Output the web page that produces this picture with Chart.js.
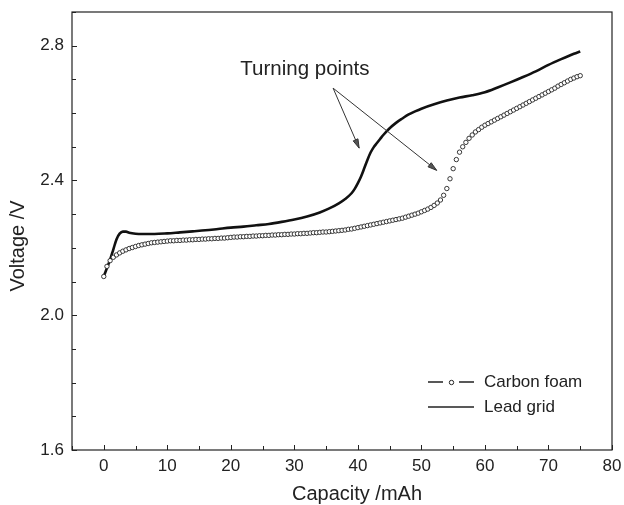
<!DOCTYPE html>
<html>
<head>
<meta charset="utf-8">
<script src="https://cdn.jsdelivr.net/npm/chart.js@4/dist/chart.umd.min.js"></script>
<style>
  html, body { margin: 0; padding: 0; background: #fff; }
  #wrap { width: 624px; height: 505px; }
</style>
</head>
<body>
<div id="wrap"><canvas id="myChart" width="624" height="505"></canvas></div>
<script>
// capacity (mAh) and voltage (V)
const leadCap = [0, 0.5, 1, 1.5, 2, 2.5, 3, 3.5, 4, 5, 6, 8, 10, 12, 14, 16, 18, 20, 22, 24, 26, 28, 30, 32, 34,
  35.5, 37, 38, 39, 39.5, 40, 40.5, 41, 41.5, 42, 42.5, 43, 43.5, 44, 45, 46, 47, 48, 49, 50, 52, 54, 56, 58, 60,
  62, 64, 66, 68, 70, 72, 74, 75];
const leadVolt = [2.115, 2.14, 2.165, 2.195, 2.225, 2.242, 2.248, 2.248, 2.245, 2.242, 2.241, 2.241, 2.243, 2.246,
  2.249, 2.252, 2.256, 2.26, 2.263, 2.267, 2.271, 2.277, 2.284, 2.293, 2.305, 2.317, 2.332, 2.345, 2.362, 2.375,
  2.392, 2.412, 2.436, 2.461, 2.483, 2.499, 2.511, 2.523, 2.535, 2.555, 2.571, 2.584, 2.596, 2.605, 2.613, 2.626,
  2.637, 2.646, 2.653, 2.662, 2.676, 2.691, 2.707, 2.724, 2.743, 2.76, 2.776, 2.783];

const foamCap = [0, 0.5, 1, 1.5, 2, 2.5, 3, 3.5, 4, 4.5, 5, 5.5, 6, 6.5, 7, 7.5, 8, 8.5, 9, 9.5,
  10, 10.5, 11, 11.5, 12, 12.5, 13, 13.5, 14, 14.5, 15, 15.5, 16, 16.5, 17, 17.5, 18, 18.5, 19, 19.5,
  20, 20.5, 21, 21.5, 22, 22.5, 23, 23.5, 24, 24.5, 25, 25.5, 26, 26.5, 27, 27.5, 28, 28.5, 29, 29.5,
  30, 30.5, 31, 31.5, 32, 32.5, 33, 33.5, 34, 34.5, 35, 35.5, 36, 36.5, 37, 37.5, 38, 38.5, 39, 39.5,
  40, 40.5, 41, 41.5, 42, 42.5, 43, 43.5, 44, 44.5, 45, 45.5, 46, 46.5, 47, 47.5, 48, 48.5, 49, 49.5,
  50, 50.5, 51, 51.5, 52, 52.5, 53, 53.5, 54, 54.5, 55, 55.5, 56, 56.5, 57, 57.5, 58, 58.5, 59, 59.5,
  60, 60.5, 61, 61.5, 62, 62.5, 63, 63.5, 64, 64.5, 65, 65.5, 66, 66.5, 67, 67.5, 68, 68.5, 69, 69.5,
  70, 70.5, 71, 71.5, 72, 72.5, 73, 73.5, 74, 74.5, 75];
const foamVolt = [2.115, 2.145, 2.162, 2.172, 2.179, 2.185, 2.19, 2.194, 2.198, 2.201, 2.204, 2.207, 2.209, 2.211, 2.213, 2.215, 2.216, 2.217, 2.218, 2.219,
  2.22, 2.221, 2.221, 2.222, 2.222, 2.223, 2.223, 2.224, 2.224, 2.225, 2.225, 2.226, 2.226, 2.227, 2.227, 2.228, 2.228, 2.229, 2.229, 2.23,
  2.231, 2.232, 2.232, 2.233, 2.233, 2.234, 2.234, 2.235, 2.235, 2.236, 2.236, 2.237, 2.237, 2.238, 2.238, 2.239, 2.239, 2.24, 2.24, 2.241,
  2.241, 2.242, 2.242, 2.243, 2.243, 2.244, 2.245, 2.245, 2.246, 2.247, 2.247, 2.248, 2.249, 2.25, 2.251, 2.252, 2.253, 2.255, 2.256, 2.258,
  2.26, 2.262, 2.264, 2.266, 2.268, 2.27, 2.272, 2.274, 2.276, 2.278, 2.28, 2.282, 2.284, 2.286, 2.288, 2.291, 2.294, 2.297, 2.3, 2.303,
  2.307, 2.311, 2.315, 2.32, 2.326, 2.333, 2.342, 2.356, 2.376, 2.405, 2.435, 2.462, 2.484, 2.5, 2.513, 2.525, 2.535, 2.544, 2.551, 2.558,
  2.564, 2.569, 2.574, 2.579, 2.584, 2.589, 2.594, 2.599, 2.604, 2.609, 2.614, 2.619, 2.624, 2.629, 2.634, 2.639, 2.644, 2.649, 2.654, 2.659,
  2.664, 2.669, 2.674, 2.68, 2.685, 2.69, 2.695, 2.7, 2.704, 2.708, 2.711];

const xTicks = [0, 10, 20, 30, 40, 50, 60, 70, 80];
const xMinorTicks = [-5, 5, 15, 25, 35, 45, 55, 65, 75];
const yTicks = [1.6, 2.0, 2.4, 2.8];
const yMinorTicks = [1.7, 1.8, 1.9, 2.1, 2.2, 2.3, 2.5, 2.6, 2.7, 2.9];

const seriesNames = ["Carbon foam", "Lead grid"];
const noteText = "Turning points";
// annotation anchor points in data units: [capacity, voltage]
const noteAt = [21.5, 2.731];
const arrowFrom = [36.1, 2.674];
const arrowTo = [[40.2, 2.496], [52.4, 2.43]];

const FONT = "'Liberation Sans', Arial, Helvetica, sans-serif";
const INK = "#222";

const toPoints = (xs, ys) => xs.map((x, i) => ({ x, y: ys[i] }));

// box, inward ticks, titles, legend and arrows
const decorPlugin = {
  id: "decor",
  afterDraw(chart) {
    const ctx = chart.ctx;
    const area = chart.chartArea;
    const xs = chart.scales.x;
    const ys = chart.scales.y;
    ctx.save();

    // frame
    ctx.strokeStyle = INK;
    ctx.lineWidth = 1.2;
    ctx.strokeRect(area.left, area.top, area.right - area.left, area.bottom - area.top);

    // inward ticks
    ctx.lineWidth = 1;
    ctx.beginPath();
    xTicks.forEach((v) => {
      const px = Math.round(xs.getPixelForValue(v)) + 0.5;
      ctx.moveTo(px, area.bottom);
      ctx.lineTo(px, area.bottom - 5);
    });
    xMinorTicks.forEach((v) => {
      const px = Math.round(xs.getPixelForValue(v)) + 0.5;
      ctx.moveTo(px, area.bottom);
      ctx.lineTo(px, area.bottom - 4);
    });
    yTicks.forEach((v) => {
      const py = Math.round(ys.getPixelForValue(v)) + 0.5;
      ctx.moveTo(area.left, py);
      ctx.lineTo(area.left + 5, py);
    });
    yMinorTicks.forEach((v) => {
      const py = Math.round(ys.getPixelForValue(v)) + 0.5;
      ctx.moveTo(area.left, py);
      ctx.lineTo(area.left + 4, py);
    });
    ctx.stroke();

    // axis titles
    ctx.fillStyle = INK;
    ctx.font = "20px " + FONT;
    ctx.textAlign = "center";
    ctx.textBaseline = "middle";
    ctx.fillText("Capacity /mAh", 357, 494);
    ctx.save();
    ctx.translate(18, 246);
    ctx.rotate(-Math.PI / 2);
    ctx.fillText("Voltage /V", 0, 0);
    ctx.restore();

    // annotation
    ctx.textAlign = "left";
    ctx.font = "20.5px " + FONT;
    ctx.fillText(noteText, xs.getPixelForValue(noteAt[0]), ys.getPixelForValue(noteAt[1]));
    const fx = xs.getPixelForValue(arrowFrom[0]);
    const fy = ys.getPixelForValue(arrowFrom[1]);
    ctx.strokeStyle = "#333";
    ctx.fillStyle = "#555";
    ctx.lineWidth = 1;
    arrowTo.forEach((t) => {
      const tx = xs.getPixelForValue(t[0]);
      const ty = ys.getPixelForValue(t[1]);
      const ang = Math.atan2(ty - fy, tx - fx);
      ctx.beginPath();
      ctx.moveTo(fx, fy);
      ctx.lineTo(tx, ty);
      ctx.stroke();
      const len = 9, half = 2.6;
      ctx.beginPath();
      ctx.moveTo(tx, ty);
      ctx.lineTo(tx - len * Math.cos(ang) + half * Math.sin(ang), ty - len * Math.sin(ang) - half * Math.cos(ang));
      ctx.lineTo(tx - len * Math.cos(ang) - half * Math.sin(ang), ty - len * Math.sin(ang) + half * Math.cos(ang));
      ctx.closePath();
      ctx.fill();
      ctx.stroke();
    });

    // legend
    ctx.fillStyle = INK;
    ctx.strokeStyle = INK;
    ctx.font = "17px " + FONT;
    ctx.textBaseline = "middle";
    const lx = 428, ly1 = 382, ly2 = 407;
    ctx.lineWidth = 1.3;
    ctx.beginPath();
    ctx.moveTo(lx, ly1); ctx.lineTo(lx + 15, ly1);
    ctx.moveTo(lx + 31, ly1); ctx.lineTo(lx + 46, ly1);
    ctx.stroke();
    ctx.lineWidth = 1;
    ctx.beginPath();
    ctx.arc(lx + 23.5, ly1 + 0.5, 2.2, 0, Math.PI * 2);
    ctx.stroke();
    ctx.lineWidth = 1.6;
    ctx.beginPath();
    ctx.moveTo(lx, ly2); ctx.lineTo(lx + 46, ly2);
    ctx.stroke();
    ctx.fillText(seriesNames[0], 484, ly1);
    ctx.fillText(seriesNames[1], 484, ly2);

    ctx.restore();
  },
};

const config = {
  type: "scatter",
  data: {
    datasets: [
      {
        label: seriesNames[0],
        data: toPoints(foamCap, foamVolt),
        showLine: false,
        pointRadius: 2.2,
        pointBorderWidth: 0.9,
        pointBorderColor: "#222",
        pointBackgroundColor: "#fff",
      },
      {
        label: seriesNames[1],
        data: toPoints(leadCap, leadVolt),
        showLine: true,
        cubicInterpolationMode: "monotone",
        borderColor: "#111",
        borderWidth: 2.6,
        pointRadius: 0,
      },
    ],
  },
  options: {
    responsive: false,
    animation: false,
    layout: { padding: { top: 12, right: 12, left: 0, bottom: 0 } },
    plugins: {
      legend: { display: false },
      tooltip: { enabled: false },
    },
    scales: {
      x: {
        type: "linear",
        min: -5,
        max: 80,
        grid: { display: false, drawTicks: false },
        border: { display: false },
        afterBuildTicks: (scale) => {
          scale.ticks = xTicks.map((v) => ({ value: v }));
        },
        afterFit: (scale) => {
          scale.height = 55;
          scale.paddingLeft = 0;
          scale.paddingRight = 0;
        },
        ticks: {
          padding: 6,
          color: INK,
          maxRotation: 0,
          autoSkip: false,
          font: { family: FONT, size: 17 },
          callback: (v) => String(v),
        },
      },
      y: {
        type: "linear",
        min: 1.6,
        max: 2.9,
        grid: { display: false, drawTicks: false },
        border: { display: false },
        afterBuildTicks: (scale) => {
          scale.ticks = yTicks.map((v) => ({ value: v }));
        },
        afterFit: (scale) => {
          scale.width = 72;
          scale.paddingTop = 0;
          scale.paddingBottom = 0;
        },
        ticks: {
          padding: 8,
          color: INK,
          autoSkip: false,
          font: { family: FONT, size: 17 },
          callback: (v) => Number(v).toFixed(1),
        },
      },
    },
  },
  plugins: [decorPlugin],
};

new Chart(document.getElementById("myChart"), config);
</script>
</body>
</html>
